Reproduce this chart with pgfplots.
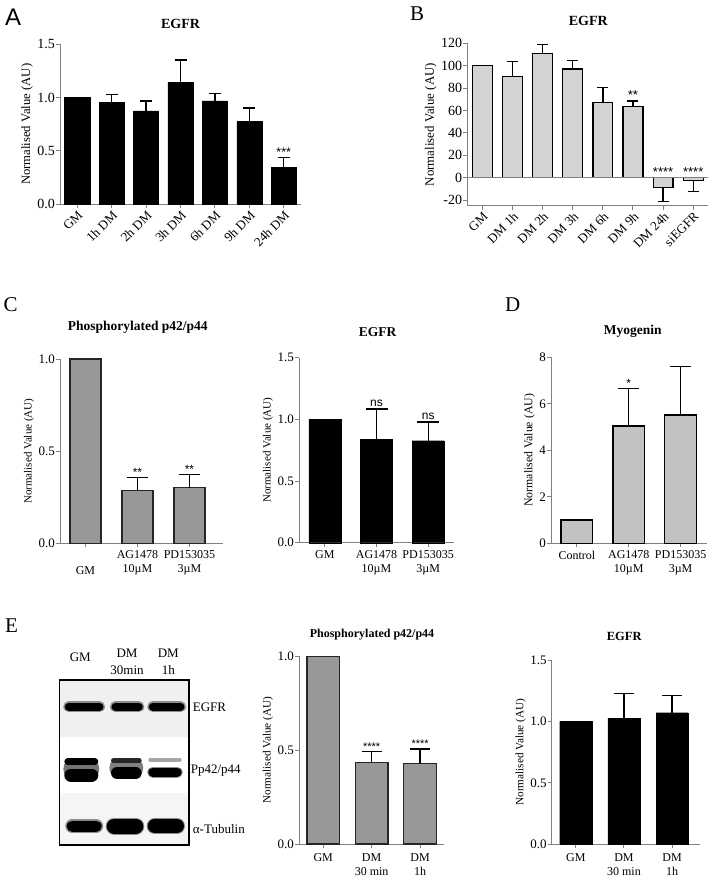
\documentclass[border=0pt]{standalone}
\usepackage{pgfplots}
\pgfplotsset{compat=1.18}
\usepackage{fontspec}
\setmainfont{Liberation Serif}
\newfontfamily\arial{Liberation Sans}

\definecolor{axgray}{HTML}{808080}
\definecolor{barlight}{HTML}{D3D3D3}
\definecolor{barmid}{HTML}{989898}
\definecolor{barD}{HTML}{C2C2C2}

\newcommand\fsz[2]{\fontsize{#1}{#2}\selectfont}

\pgfplotsset{
  gp/.style={
    scale only axis, clip=false, anchor=south west,
    axis lines=left,
    axis line style={draw=axgray, line width=1pt, -},
    tick style={draw=axgray, line width=1pt},
    tick align=outside,
    major tick length=4pt,
    /pgf/number format/assume math mode=true,
    yticklabel style={inner sep=1pt},
    ylabel={Normalised Value (AU)},
  },
  onedec/.style={yticklabel style={/pgf/number format/fixed, /pgf/number format/fixed zerofill, /pgf/number format/precision=1}},
  errp/.style={draw=none, mark=none, forget plot,
    error bars/.cd, y dir=plus, y explicit,
    error bar style={draw=black, line width=1.3pt},
    error mark options={rotate=90, draw=black, line width=1.3pt, mark size=#1}},
  errm/.style={draw=none, mark=none, forget plot,
    error bars/.cd, y dir=minus, y explicit,
    error bar style={draw=black, line width=1.3pt},
    error mark options={rotate=90, draw=black, line width=1.3pt, mark size=#1}},
}
\tikzset{sig/.style={font=\arial\fsz{#1}{#1}, anchor=south, inner sep=1pt}}

\begin{document}
\begin{tikzpicture}
\path[use as bounding box] (0pt,-881pt) rectangle (712pt,0pt);

% ---------- A ----------
\begin{axis}[gp, onedec, at={(60pt,-204.3pt)}, width=241pt, height=160pt,
  xmin=-0.5, xmax=6.5, ymin=0, ymax=1.5, ytick={0,0.5,1,1.5},
  xtick={0,...,6}, xticklabels={GM,1h DM,2h DM,3h DM,6h DM,9h DM,24h DM},
  xticklabel style={rotate=45, anchor=north east, inner sep=1pt, font=\fsz{13}{15}},
  yticklabel style={font=\fsz{14}{15}},
  ylabel style={font=\fsz{12.7}{15}}]
\addplot[ybar, bar width=0.73, fill=black, draw=black] coordinates {
  (0,1.0) (1,0.953) (2,0.875) (3,1.144) (4,0.969) (5,0.775) (6,0.344)};
\addplot[errp=6pt] coordinates {
  (1,0.953) +- (0,0.078) (2,0.875) +- (0,0.094) (3,1.144) +- (0,0.209)
  (4,0.969) +- (0,0.069) (5,0.775) +- (0,0.128) (6,0.344) +- (0,0.096)};
\node[sig=12.5] at (axis cs:6,0.44) {***};
\end{axis}

% ---------- B ----------
\begin{axis}[gp, at={(467.3pt,-205.7pt)}, width=241pt, height=162.4pt,
  xmin=-0.5, xmax=7.5, ymin=-25, ymax=120, ytick={-20,0,20,40,60,80,100,120},
  xtick={0,...,7}, xticklabels={GM,DM 1h,DM 2h,DM 3h,DM 6h,DM 9h,DM 24h,siEGFR},
  xticklabel style={rotate=45, anchor=north east, inner sep=1pt, font=\fsz{13}{15}},
  yticklabel style={font=\fsz{14}{15}},
  ylabel style={font=\fsz{12.9}{15}}]
\addplot[ybar, bar width=0.66, fill=barlight, draw=black, line width=1.3pt] coordinates {
  (0,100) (1,90.5) (2,111) (3,97) (4,67.3) (5,63.4) (6,-8.6) (7,-2.7)};
\addplot[axgray, line width=1pt, forget plot] coordinates {(-0.5,0) (7.5,0)};
\addplot[errp=5.5pt] coordinates {
  (1,90.5) +- (0,13.1) (2,111) +- (0,8) (3,97) +- (0,7.5)
  (4,67.3) +- (0,13.4) (5,63.4) +- (0,5.1)};
\addplot[errm=5.5pt] coordinates {(6,-8.6) +- (0,12.8) (7,-2.7) +- (0,9.8)};
\node[sig=13] at (axis cs:5,68.5) {**};
\node[sig=13] at (axis cs:6,0) {****};
\node[sig=13] at (axis cs:7,0) {****};
\end{axis}

% ---------- C left ----------
\begin{axis}[gp, onedec, at={(60pt,-543.3pt)}, width=163.3pt, height=184.3pt,
  xmin=-0.49, xmax=2.65, ymin=0, ymax=1, ytick={0,0.5,1},
  xtick={0,1,2}, xticklabels={{\strut\\GM},{AG1478\\10µM},{PD153035\\3µM}},
  xticklabel style={align=center, anchor=north, font=\fsz{12}{14}},
  yticklabel style={font=\fsz{13}{14}},
  ylabel style={font=\fsz{11}{13}}]
\addplot[ybar, bar width=0.6, fill=barmid, draw=black!85, line width=1.3pt] coordinates {
  (0,1.0) (1,0.286) (2,0.302)};
\addplot[errp=10.5pt] coordinates {(1,0.286) +- (0,0.072) (2,0.302) +- (0,0.072)};
\node[sig=12] at (axis cs:1,0.358) {**};
\node[sig=12] at (axis cs:2,0.374) {**};
\end{axis}

% ---------- C right ----------
\begin{axis}[gp, onedec, at={(299pt,-542.7pt)}, width=155pt, height=185pt,
  xmin=-0.5, xmax=2.5, ymin=0, ymax=1.5, ytick={0,0.5,1,1.5},
  xtick={0,1,2}, xticklabels={GM,{AG1478\\10µM},{PD153035\\3µM}},
  xticklabel style={align=center, anchor=north, font=\fsz{12}{14}},
  yticklabel style={font=\fsz{13}{14}},
  ylabel style={font=\fsz{11}{13}}]
\addplot[ybar, bar width=0.62, fill=black, draw=black] coordinates {
  (0,1.0) (1,0.838) (2,0.827)};
\addplot[errp=11pt] coordinates {(1,0.838) +- (0,0.246) (2,0.827) +- (0,0.151)};
\node[sig=12, inner sep=2pt] at (axis cs:1,1.084) {ns};
\node[sig=12, inner sep=2pt] at (axis cs:2,0.978) {ns};
\end{axis}

% ---------- D ----------
\begin{axis}[gp, at={(551pt,-543.3pt)}, width=155.5pt, height=186pt,
  xmin=-0.5, xmax=2.5, ymin=0, ymax=8, ytick={0,2,4,6,8},
  xtick={0,1,2}, xticklabels={Control,{AG1478\\10µM},{PD153035\\3µM}},
  xticklabel style={align=center, anchor=north, font=\fsz{12}{14}},
  yticklabel style={font=\fsz{13}{14}},
  ylabel style={font=\fsz{11.8}{13}}]
\addplot[ybar, bar width=0.61, fill=barD, draw=black, line width=1.3pt] coordinates {
  (0,1.0) (1,5.05) (2,5.52)};
\addplot[errp=10.5pt] coordinates {(1,5.05) +- (0,1.6) (2,5.52) +- (0,2.09)};
\node[sig=12] at (axis cs:1,6.65) {*};
\end{axis}

% ---------- E blot ----------
\begin{axis}[at={(59.3pt,-845pt)}, anchor=south west, scale only axis,
  width=129.7pt, height=165pt, xmin=0, xmax=129.7, ymin=0, ymax=165,
  hide axis, clip=false]
\fill[black!6] (axis cs:0,108) rectangle (axis cs:129.7,165);
\fill[black!4] (axis cs:0,0) rectangle (axis cs:129.7,52);
% EGFR
\addplot[black!45, line width=11pt, line cap=round] coordinates {(9.5,138.3) (40.2,138.3)};
\addplot[black!45, line width=11pt, line cap=round] coordinates {(56.2,138.3) (79.5,138.3)};
\addplot[black!45, line width=11pt, line cap=round] coordinates {(93.5,138.3) (121.2,138.3)};
\addplot[black, line width=8pt, line cap=round] coordinates {(9.5,138.3) (40.2,138.3)};
\addplot[black, line width=8pt, line cap=round] coordinates {(56.2,138.3) (79.5,138.3)};
\addplot[black, line width=8pt, line cap=round] coordinates {(93.5,138.3) (121.2,138.3)};
% Pp42/p44
\addplot[black!55, line width=22pt, line cap=round] coordinates {(15,76) (29,76)};
\addplot[black!50, line width=20pt, line cap=round] coordinates {(60,77) (74,77)};
\addplot[black, line width=7pt, line cap=round] coordinates {(8.5,83.3) (35.5,83.3)};
\addplot[black!85, line width=5pt, line cap=round] coordinates {(54.2,84.3) (79.9,84.3)};
\addplot[black!35, line width=4pt, line cap=round] coordinates {(91,85) (120.4,85)};
\addplot[black, line width=13pt, line cap=round] coordinates {(11.5,70) (32.5,70)};
\addplot[black, line width=12pt, line cap=round] coordinates {(57.7,72) (76.4,72)};
\addplot[black!45, line width=11pt, line cap=round] coordinates {(93.5,73) (117.9,73)};
\addplot[black, line width=9pt, line cap=round] coordinates {(93.5,73) (117.9,73)};
% alpha-tubulin
\addplot[black!45, line width=14pt, line cap=round] coordinates {(12.9,19) (36.9,19)};
\addplot[black, line width=11pt, line cap=round] coordinates {(12.9,19) (36.9,19)};
\addplot[black!45, line width=17pt, line cap=round] coordinates {(54.9,19) (76.5,19)};
\addplot[black, line width=15pt, line cap=round] coordinates {(54.9,19) (76.5,19)};
\addplot[black!45, line width=16pt, line cap=round] coordinates {(95.4,19) (117.7,19)};
\addplot[black, line width=14pt, line cap=round] coordinates {(95.4,19) (117.7,19)};
\draw[black, line width=1.5pt] (axis cs:0,0) rectangle (axis cs:129.7,165);
\end{axis}

% ---------- E middle ----------
\begin{axis}[gp, onedec, at={(299pt,-844pt)}, width=145.3pt, height=187.7pt,
  xmin=-0.5, xmax=2.5, ymin=0, ymax=1, ytick={0,0.5,1},
  xtick={0,1,2}, xticklabels={GM,{DM\\30 min},{DM\\1h}},
  xticklabel style={align=center, anchor=north, font=\fsz{12}{14}, yshift=-2pt},
  yticklabel style={font=\fsz{13}{14}},
  ylabel style={font=\fsz{11.2}{13}}]
\addplot[ybar, bar width=0.675, fill=barmid, draw=black!85, line width=1.3pt] coordinates {
  (0,1.0) (1,0.435) (2,0.428)};
\addplot[errp=10pt] coordinates {(1,0.435) +- (0,0.059) (2,0.428) +- (0,0.078)};
\node[sig=11] at (axis cs:1,0.494) {****};
\node[sig=11] at (axis cs:2,0.506) {****};
\end{axis}

% ---------- E right ----------
\begin{axis}[gp, onedec, at={(551.7pt,-844.3pt)}, width=148.3pt, height=184.3pt,
  xmin=-0.5, xmax=2.58, ymin=0, ymax=1.5, ytick={0,0.5,1,1.5},
  xtick={0,1,2}, xticklabels={GM,{DM\\30 min},{DM\\1h}},
  xticklabel style={align=center, anchor=north, font=\fsz{12}{14}, yshift=-2pt},
  yticklabel style={font=\fsz{13}{14}},
  ylabel style={font=\fsz{11.2}{13}}]
\addplot[ybar, bar width=0.667, fill=black, draw=black] coordinates {
  (0,1.0) (1,1.025) (2,1.071)};
\addplot[errp=10pt] coordinates {(1,1.025) +- (0,0.201) (2,1.071) +- (0,0.139)};
\end{axis}

% ---------- titles ----------
\node[anchor=base, font=\bfseries\fsz{14}{16}] at (180.5pt,-28.3pt) {EGFR};
\node[anchor=base, font=\bfseries\fsz{14}{16}] at (588.3pt,-25pt) {EGFR};
\node[anchor=base, font=\bfseries\fsz{13.5}{16}] at (137.8pt,-330.7pt) {Phosphorylated p42/p44};
\node[anchor=base, font=\bfseries\fsz{13.5}{16}] at (377.5pt,-336.7pt) {EGFR};
\node[anchor=base, font=\bfseries\fsz{13.5}{16}] at (632.8pt,-334pt) {Myogenin};
\node[anchor=base, font=\bfseries\fsz{12}{14}] at (372pt,-637.3pt) {Phosphorylated p42/p44};
\node[anchor=base, font=\bfseries\fsz{12.5}{14}] at (624.2pt,-640pt) {EGFR};

% ---------- panel letters ----------
\node[anchor=base west, inner sep=0pt, font=\arial\fsz{24}{26}] at (5pt,-25pt) {A};
\node[anchor=base west, inner sep=0pt, font=\fsz{21}{24}] at (410pt,-20.7pt) {B};
\node[anchor=base west, inner sep=0pt, font=\fsz{21}{24}] at (3.3pt,-311.7pt) {C};
\node[anchor=base west, inner sep=0pt, font=\fsz{21}{24}] at (505pt,-311.7pt) {D};
\node[anchor=base west, inner sep=0pt, font=\fsz{21}{24}] at (5pt,-632.3pt) {E};

% ---------- blot labels ----------
\begin{scope}[every node/.style={font=\fsz{13}{15}, inner sep=0pt}]
\node[anchor=base] at (80.3pt,-661.7pt) {GM};
\node[anchor=base] at (127pt,-657.3pt) {DM};
\node[anchor=base] at (127pt,-674pt) {30min};
\node[anchor=base] at (168.3pt,-657.3pt) {DM};
\node[anchor=base] at (168.3pt,-674pt) {1h};
\node[anchor=base west] at (192.7pt,-711.7pt) {EGFR};
\node[anchor=base west] at (190.7pt,-773.3pt) {Pp42/p44};
\node[anchor=base west] at (192.7pt,-833.3pt) {α-Tubulin};
\end{scope}
\end{tikzpicture}
\end{document}
